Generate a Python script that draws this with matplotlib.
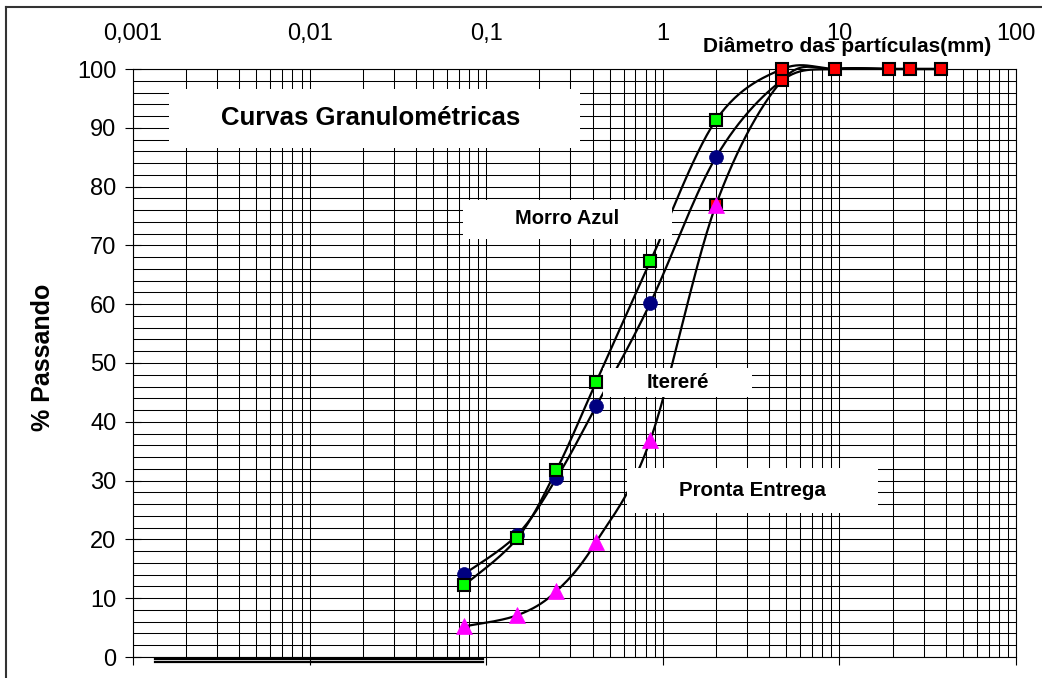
import numpy as np
import matplotlib
matplotlib.use("Agg")
import matplotlib.pyplot as plt
from matplotlib.ticker import LogLocator, MultipleLocator, FixedLocator, NullFormatter
from matplotlib.patches import Rectangle
from matplotlib.lines import Line2D

plt.rcParams['font.family'] = ['Liberation Sans', 'DejaVu Sans']

# Sieve openings (mm) and % passing for each sample
sieves = [0.075, 0.15, 0.25, 0.42, 0.85, 2.0, 4.75, 9.5, 19, 25, 37.5]
green_pass = [12.2, 20.2, 31.8, 46.8, 67.3, 91.3, 100, 100, 100, 100, 100]
blue_pass = [14.1, 20.8, 30.4, 42.7, 60.2, 85.0, 98.1, 100, 100, 100, 100]
pink_pass = [5.2, 7.1, 11.2, 19.6, 36.9, 76.9, 98.1, 100, 100, 100, 100]

# red square markers (coarse fraction)
red_sizes = [2.0, 4.75, 4.75, 9.5, 19, 25, 37.5]
red_pass = [76.9, 98.1, 100, 100, 100, 100, 100]

x_ticks = [0.001, 0.01, 0.1, 1, 10, 100]
x_tick_labels = ["0,001", "0,01", "0,1", "1", "10", "100"]

W, H = 1042, 678


def px(x, y):
    # pixel position (from top left) -> figure fraction
    return x / W, 1 - y / H


def smooth(xs, ys, n=30):
    # Excel-like smoothed line (cardinal spline in log-x space)
    u = np.log10(np.array(xs, dtype=float))
    v = np.array(ys, dtype=float)
    pts = np.column_stack([u, v])
    out = []
    for i in range(len(pts) - 1):
        p0 = pts[i - 1] if i > 0 else pts[i]
        p1 = pts[i]
        p2 = pts[i + 1]
        p3 = pts[i + 2] if i + 2 < len(pts) else pts[i + 1]
        c1 = p1 + (p2 - p0) / 6
        c2 = p2 - (p3 - p1) / 6
        t = np.linspace(0, 1, n)[:, None]
        seg = ((1 - t) ** 3) * p1 + 3 * ((1 - t) ** 2) * t * c1 + 3 * (1 - t) * t ** 2 * c2 + t ** 3 * p2
        out.append(seg)
    out = np.vstack(out)
    return 10 ** out[:, 0], out[:, 1]


fig = plt.figure(figsize=(W / 100, H / 100), dpi=100)
l, t = px(133, 69)
r, b = px(1016, 657)
ax = fig.add_axes([l, b, r - l, t - b])

ax.set_xscale("log")
ax.set_xlim(0.001, 100)
ax.set_ylim(0, 100)

ax.set_xticks(x_ticks)
ax.set_xticklabels(x_tick_labels)
ax.xaxis.set_minor_locator(LogLocator(base=10, subs=np.arange(2, 10)))
ax.xaxis.set_minor_formatter(NullFormatter())
ax.yaxis.set_major_locator(MultipleLocator(10))
ax.yaxis.set_minor_locator(MultipleLocator(2))

ax.grid(which="both", axis="both", color="black", lw=0.75, zorder=0)
ax.set_axisbelow(True)

ax.tick_params(axis="x", which="major", top=False, bottom=True, labeltop=True, labelbottom=False,
               direction="out", length=6, width=0.8, labelsize=17, pad=11)
ax.tick_params(axis="y", which="major", left=True, direction="inout", length=12, width=0.8,
               labelsize=17, pad=6)
ax.tick_params(which="minor", length=0)
for s in ax.spines.values():
    s.set_linewidth(0.8)
    s.set_color("black")

styles = [
    (blue_pass, "#000080", "o", 10, "#000080", 0.5),
    (pink_pass, "#ff00ff", "^", 11, "#ff00ff", 0.5),
    (green_pass, "#00ff00", "s", 9, "black", 1.5),
]

# smoothed curves
for vals, col, mk, ms, mec, mew in styles:
    sx, sy = smooth(sieves, vals)
    ax.plot(sx, sy, color="black", lw=1.6, zorder=3, clip_on=False)

ax.plot(red_sizes, red_pass, ls="none", marker="s", ms=9, mfc="red", mec="black", mew=1.5,
        zorder=4, clip_on=False)

for vals, col, mk, ms, mec, mew in styles:
    ax.plot(sieves[:6], vals[:6], ls="none", marker=mk, ms=ms, mfc=col, mec=mec,
            mew=mew, zorder=5, clip_on=False)

# white label boxes on the chart
boxes = [
    (169, 89, 580, 148, "Curvas Granulométricas", 371, 118, 18.5),
    (463, 200, 672, 239, "Morro Azul", 567, 219, 14.5),
    (603, 368, 752, 397, "Itereré", 678, 383, 14.8),
    (627, 468, 878, 513, "Pronta Entrega", 752, 490, 14.8),
]
for x0, y0, x1, y1, txt, tx, ty, fs in boxes:
    fx0, fy1 = px(x0, y0)
    fx1, fy0 = px(x1, y1)
    ax.add_patch(Rectangle((fx0, fy0), fx1 - fx0, fy1 - fy0, transform=fig.transFigure,
                           facecolor="white", edgecolor="none", zorder=4.5, clip_on=False))
    fx, fy = px(tx, ty)
    fig.text(fx, fy, txt, ha="center", va="center", fontsize=fs, fontweight="bold", zorder=6)

fx, fy = px(847, 47)
fig.text(fx, fy, "Diâmetro das partículas(mm)", ha="center", va="center", fontsize=15,
         fontweight="bold")
fx, fy = px(43, 357)
fig.text(fx, fy, "% Passando", ha="center", va="center", rotation=90, fontsize=18,
         fontweight="bold")

# stray double line under the axis
for yy in (659, 662):
    a, c = px(155, yy)
    d, _ = px(483, yy)
    fig.add_artist(Line2D([a, d], [c, c], color="black", lw=1.6))

# frame around the chart area
a, c = px(6, 7)
fig.add_artist(Line2D([a, a], [0, c], color="#333333", lw=1.5))
fig.add_artist(Line2D([a, 1], [c, c], color="#333333", lw=1.5))

fig.savefig("out.png", dpi=100)
